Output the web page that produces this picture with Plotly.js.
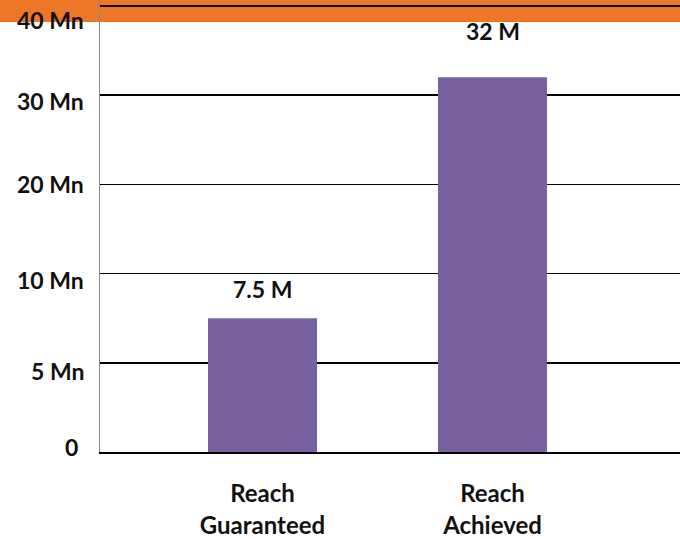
<!DOCTYPE html>
<html>
<head>
<meta charset="utf-8">
<script src="https://cdn.plot.ly/plotly-3.0.1.min.js"></script>
<style>html,body{margin:0;padding:0;background:#fff;}#chart{width:680px;height:539px;}</style>
</head>
<body>
<div id="chart"></div>
<script>
// Data
const categories = ["Reach<br>Guaranteed", "Reach<br>Achieved"];
const reachValues = [7.5, 32];            // millions
const valueLabels = ["7.5 M", "32 M"];
const tickValues = [0, 5, 10, 20, 30, 40]; // axis ticks (unevenly spaced in the original)
const tickLabels = ["0", "5 Mn", "10 Mn", "20 Mn", "30 Mn", "40 Mn"];

// Label placement styles (pixels)
const valueLabelShift = [29, 46];
const tickLabelDown = [-5, 8, 6, 0, 6, 14];
const tickLabelRight = [-20, -14, -14, -14, -14, -14];

// Piecewise scale: each tick interval gets the same height, as in the original
function toIndex(v) {
  for (let i = 0; i < tickValues.length - 1; i++) {
    if (v <= tickValues[i + 1]) {
      return i + (v - tickValues[i]) / (tickValues[i + 1] - tickValues[i]);
    }
  }
  return tickValues.length - 1;
}

const FONT = "Lato, 'Open Sans', sans-serif";
const PLOT_H = 452;
const UNIT = 89.2;

const trace = {
  type: 'bar',
  x: categories,
  y: reachValues.map(toIndex),
  width: 0.474,
  marker: {color: '#7761A0'},
  hoverinfo: 'skip'
};

const valueAnnotations = categories.map((c, i) => ({
  x: c, y: toIndex(reachValues[i]), xref: 'x', yref: 'y',
  text: valueLabels[i], showarrow: false,
  yanchor: 'middle', yshift: valueLabelShift[i],
  font: {family: FONT, size: 23, weight: 'bold', color: '#111111'}
}));

const tickAnnotations = tickLabels.map((t, i) => ({
  x: 0, xref: 'paper', y: toIndex(tickValues[i]), yref: 'y',
  text: t, showarrow: false,
  xanchor: 'right', yanchor: 'middle',
  xshift: tickLabelRight[i], yshift: -tickLabelDown[i],
  font: {family: FONT, size: 23, weight: 'bold', color: '#111111'}
}));

const layout = {
  width: 680, height: 539,
  margin: {l: 100, r: 0, t: 0, b: 87},
  paper_bgcolor: '#ffffff',
  plot_bgcolor: 'rgba(0,0,0,0)',
  showlegend: false,
  font: {family: FONT, color: '#111111'},
  xaxis: {
    type: 'category',
    range: [-0.7065, 1.815],
    showgrid: false, zeroline: false,
    showline: true, linecolor: '#000000', linewidth: 1.5,
    ticks: '',
    tickfont: {family: FONT, size: 24, weight: 'bold', color: '#111111'},
    ticklabelstandoff: 20
  },
  yaxis: {
    range: [0, PLOT_H / UNIT],
    tickvals: tickValues.map(toIndex),
    ticktext: tickLabels,
    showticklabels: false,
    showgrid: true, gridcolor: '#000000', gridwidth: 1.5,
    zeroline: false,
    showline: true, linecolor: '#8a8a8a', linewidth: 1.5,
    ticks: ''
  },
  shapes: [{
    type: 'rect', xref: 'paper', yref: 'paper',
    x0: -0.3, x1: 1.1, y0: 1.01, y1: 1 - 22 / PLOT_H,
    fillcolor: '#EE7727', line: {width: 0}, layer: 'below'
  }],
  annotations: valueAnnotations.concat(tickAnnotations)
};

Plotly.newPlot('chart', [trace], layout, {displayModeBar: false, staticPlot: true});
</script>
</body>
</html>
